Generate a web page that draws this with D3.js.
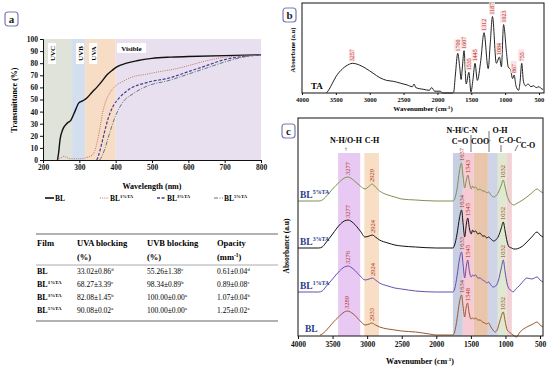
<!DOCTYPE html>
<html>
<head>
<meta charset="utf-8">
<script src="https://cdn.jsdelivr.net/npm/d3@7"></script>
<style>
body { margin: 0; background: #fff; }
svg { font-family: "Liberation Serif", "DejaVu Serif", serif; }
</style>
</head>
<body>
<div id="main"></div>
<script>
// ---------- panel a : UV-vis transmittance ----------
var uvBands = [[200, 280], [280, 316], [316, 400], [400, 800]];
var uvBandNames = ['UVC', 'UVB', 'UVA', 'Visible'];
var wlTicks = [200, 300, 400, 500, 600, 700, 800];
var transTicks = [0, 10, 20, 30, 40, 50, 60, 70, 80, 90, 100];

var seriesNames = ['BL', 'BL', 'BL', 'BL'];
var seriesSup = ['', '1%TA', '3%TA', '5%TA'];

var transBL = [[240, 0], [243, 6], [247, 17], [254, 25], [265, 30], [277, 33], [289, 41], [298, 47], [310, 49], [320, 51],
  [335, 56], [348, 60], [362, 65], [375, 70], [390, 74], [403, 77], [430, 80], [458, 82], [500, 84], [550, 85], [600, 85.5],
  [700, 86.3], [800, 87]];
var transBL1 = [[240, 0], [250, 2], [258, 3], [266, 2], [276, 1], [300, 1], [320, 2], [335, 4], [343, 8], [350, 16], [357, 27],
  [364, 39], [371, 47], [385, 56], [403, 62], [420, 65], [440, 68], [486, 71], [520, 73], [560, 75], [600, 78], [650, 82],
  [700, 85], [750, 86], [800, 87]];
var transBL3 = [[348, 0], [352, 3], [357, 8], [362, 14], [370, 24], [380, 35], [394, 45], [412, 52], [440, 59], [486, 64],
  [550, 68], [600, 73], [650, 78], [700, 83], [750, 85.5], [800, 87]];
var transBL5 = [[356, 0], [362, 3], [370, 9], [381, 20], [399, 36], [418, 47], [449, 55], [486, 61], [550, 66], [600, 71],
  [650, 76], [700, 81], [750, 85], [800, 87]];

// table
var tableHead = ['Film', 'UVA blocking', 'UVB blocking', 'Opacity'];
var tableUnits = ['', '(%)', '(%)', '(mm'];
var uvaBlock = ['33.02±0.86', '68.27±3.39', '82.08±1.45', '90.08±0.02'];
var uvaLetter = ['d', 'c', 'b', 'a'];
var uvbBlock = ['55.26±1.38', '98.34±0.89', '100.00±0.00', '100.00±0.00'];
var uvbLetter = ['c', 'b', 'a', 'a'];
var opacity = ['0.61±0.04', '0.89±0.08', '1.07±0.04', '1.25±0.02'];
var opLetter = ['d', 'c', 'b', 'a'];

// ---------- panel b : FTIR of TA ----------
var wnTicks = [4000, 3500, 3000, 2500, 2000, 1500, 1000, 500];
var specTA = [[3640, 0], [3600, 0.04], [3550, 0.11], [3500, 0.18], [3400, 0.27], [3300, 0.32], [3257, 0.33], [3150, 0.31],
  [3050, 0.27], [2950, 0.22], [2850, 0.17], [2750, 0.14], [2650, 0.13], [2550, 0.11], [2450, 0.09], [2370, 0.07],
  [2345, 0.1], [2320, 0.06], [2200, 0.04], [2120, 0.03], [2085, 0.06], [2040, 0.02], [1960, 0.02], [1920, 0.0],
  [1780, 0.0], [1760, 0.01], [1735, 0.2], [1700, 0.44], [1670, 0.28], [1650, 0.15], [1630, 0.3], [1607, 0.47],
  [1575, 0.1], [1535, 0.23], [1505, 0.01], [1475, 0.15], [1445, 0.33], [1410, 0.14], [1360, 0.36], [1312, 0.67],
  [1250, 0.27], [1220, 0.55], [1187, 0.85], [1130, 0.33], [1084, 0.4], [1055, 0.29], [1023, 0.76], [980, 0.45],
  [955, 0.29], [920, 0.26], [890, 0.16], [867, 0.2], [840, 0.08], [800, 0.03], [780, 0.12], [755, 0.33], [730, 0.13],
  [700, 0.08], [660, 0.1], [620, 0.07], [580, 0.08], [540, 0.06], [500, 0.07], [470, 0.05], [440, 0.04]];
var peaksTA = [3257, 1700, 1607, 1535, 1445, 1312, 1187, 1084, 1023, 867, 755];

// ---------- panel c : FTIR of films ----------
var groupBands = [[3420, 3100], [3040, 2830], [1760, 1616], [1616, 1457], [1457, 1254], [1254, 1110], [1110, 980], [980, 907]];
var groupNames = ['N-H/O-H', 'C-H', 'C=O', 'N-H/C-N', 'COO', 'O-H', 'C-O-C', 'C-O'];
var specOffset = [1, 44, 88, 135];

var specBL = [[3680, 0], [3650, 1], [3600, 4], [3500, 12], [3400, 19], [3330, 23], [3289, 24], [3200, 21], [3100, 14],
  [3030, 10], [2970, 11], [2933, 12], [2880, 10], [2820, 8], [2700, 6], [2600, 5], [2500, 4], [2300, 3], [2100, 1],
  [2000, 0], [1760, 0], [1735, 3], [1700, 16], [1665, 33], [1634, 40], [1612, 28], [1590, 18], [1568, 28], [1548, 32],
  [1525, 22], [1500, 16], [1475, 17], [1455, 16], [1430, 17], [1400, 15], [1370, 15], [1330, 13], [1300, 12], [1270, 11],
  [1245, 12], [1210, 8], [1170, 4], [1150, 3], [1120, 5], [1080, 14], [1032, 23], [1005, 14], [975, 5], [945, 3],
  [910, 1], [870, -1], [840, -2], [800, 2], [740, 6], [690, 8], [600, 11], [543, 13], [500, 10], [457, 8]];
var specBL1 = [[4000, 0], [3700, 0], [3650, 1], [3600, 5], [3500, 13], [3400, 21], [3330, 25], [3276, 26], [3200, 23],
  [3100, 16], [3030, 12], [2970, 13], [2924, 14], [2880, 12], [2820, 9], [2700, 6], [2600, 4], [2500, 3], [2300, 1],
  [2000, 0], [1760, 0], [1735, 3], [1700, 16], [1665, 33], [1633, 40], [1612, 27], [1590, 14], [1565, 26], [1545, 32],
  [1520, 20], [1495, 15], [1475, 17], [1455, 16], [1430, 17], [1400, 14], [1370, 14], [1330, 12], [1300, 11], [1270, 9],
  [1245, 10], [1210, 7], [1180, 5], [1140, 6], [1100, 12], [1060, 24], [1032, 32], [1005, 20], [975, 8], [945, 3],
  [910, 1], [890, 0], [850, 3], [790, 7], [740, 11], [690, 14], [620, 13], [543, 15], [500, 12], [457, 10]];
var specBL3 = [[4000, 0], [3700, 0], [3650, 1], [3600, 5], [3500, 14], [3400, 23], [3330, 27], [3277, 28], [3200, 25],
  [3100, 17], [3030, 11], [2970, 12], [2924, 13], [2880, 11], [2820, 8], [2700, 5], [2600, 3], [2500, 2], [2300, 1],
  [2000, 0], [1760, 0], [1735, 3], [1700, 14], [1665, 30], [1634, 38], [1612, 24], [1590, 11], [1565, 24], [1545, 30],
  [1520, 19], [1495, 14], [1475, 18], [1455, 16], [1430, 17], [1400, 14], [1370, 15], [1330, 12], [1300, 12], [1270, 10],
  [1245, 11], [1210, 9], [1170, 7], [1140, 8], [1100, 12], [1060, 20], [1032, 26], [1005, 17], [975, 6], [945, 1],
  [910, 0], [880, -1], [850, -1], [800, 0], [750, 2], [690, 6], [620, 11], [543, 16], [500, 13], [457, 11]];
var specBL5 = [[4000, 0], [3700, 0], [3650, 1], [3600, 4], [3500, 12], [3400, 19], [3330, 23], [3277, 24], [3200, 21],
  [3100, 15], [3030, 12], [2970, 15], [2929, 17], [2880, 14], [2820, 10], [2700, 6], [2600, 4], [2500, 2], [2300, 1],
  [2000, 0], [1760, 0], [1735, 2], [1700, 12], [1665, 30], [1637, 38], [1612, 24], [1590, 13], [1565, 21], [1543, 26],
  [1520, 18], [1495, 12], [1475, 15], [1455, 13], [1430, 14], [1400, 11], [1370, 12], [1330, 10], [1300, 10], [1270, 8],
  [1245, 9], [1210, 6], [1170, 4], [1140, 5], [1100, 9], [1060, 16], [1032, 21], [1005, 14], [975, 5], [945, 0],
  [910, -3], [880, -4], [850, -3], [800, -1], [750, 1], [690, 4], [620, 8], [543, 12], [500, 10], [457, 8]];
var peaksBL = [3289, 2933, 1634, 1548, 1032];
var peaksBL1 = [3276, 2924, 1633, 1545, 1032];
var peaksBL3 = [3277, 2924, 1634, 1545, 1032];
var peaksBL5 = [3277, 2929, 1637, 1543, 1032];

// ---------- drawing ----------
var svg = d3.select("#main").append("svg")
    .attr("width", 550)
    .attr("height", 369);

var bold = "bold";

function supText(g, x, y, base, sup, fs, anchor) {
  var t = g.append("text")
    .attr("x", x).attr("y", y)
    .attr("font-size", fs)
    .attr("text-anchor", anchor || "start");
  t.append("tspan").text(base);
  if (sup) t.append("tspan").attr("dy", -fs * 0.38).attr("font-size", fs * 0.62).text(sup);
  return t;
}

function letterBox(x, y, t) {
  svg.append("rect").attr("x", x).attr("y", y).attr("width", 13).attr("height", 14).attr("rx", 3)
    .attr("fill", "#fff").attr("stroke", "#7b7bb8").attr("stroke-width", 1.2);
  svg.append("text").attr("x", x + 6.5).attr("y", y + 10.5).attr("text-anchor", "middle")
    .attr("font-size", 11).attr("font-weight", bold).attr("fill", "#222").text(t);
}

function styleAxis(g, fs) {
  g.selectAll("text").attr("font-family", "Liberation Serif, serif").attr("font-weight", bold)
    .attr("font-size", fs).attr("fill", "#111");
  g.selectAll("line, path").attr("stroke", "#111");
}

// panel a
var xa = d3.scaleLinear().domain([200, 800]).range([43, 261]);
var ya = d3.scaleLinear().domain([0, 100]).range([160, 39]);
var bandColA = ['#dfe3da', '#d3dfee', '#f7dcc6', '#e9e0ef'];

var ga = svg.append("g");
ga.selectAll(".bandA").data(uvBands).enter().append("rect")
  .attr("x", function(d) { return xa(d[0]); })
  .attr("y", ya(100))
  .attr("width", function(d) { return xa(d[1]) - xa(d[0]); })
  .attr("height", ya(0) - ya(100))
  .attr("fill", function(d, i) { return bandColA[i]; });

// band labels
[0, 1, 2].forEach(function(i) {
  var cx = xa(uvBands[i][0]) + 8 + (i == 0 ? 1 : 0);
  ga.append("rect").attr("x", cx - 4).attr("y", 43).attr("width", 8).attr("height", 21).attr("fill", "#fff");
  ga.append("text").attr("transform", "translate(" + (cx + 2.5) + ",53.5) rotate(-90)")
    .attr("text-anchor", "middle").attr("font-size", 7).attr("font-weight", bold).text(uvBandNames[i]);
});
ga.append("rect").attr("x", 117).attr("y", 43).attr("width", 29).attr("height", 10).attr("fill", "#fff");
ga.append("text").attr("x", 131.5).attr("y", 51).attr("text-anchor", "middle")
  .attr("font-size", 7).attr("font-weight", bold).text(uvBandNames[3]);

var lineA = d3.line()
  .x(function(d) { return xa(d[0]); })
  .y(function(d) { return ya(d[1]); })
  .curve(d3.curveMonotoneX);

var transSeries = [transBL, transBL1, transBL3, transBL5];
var transColor = ['#111', '#b8746a', '#4b3c96', '#5d7780'];
var transDash = [null, '1,1.2', '3,1.6', '4,1.5,1,1.5'];
var transWidth = [1.4, 1, 1.2, 1];

ga.selectAll(".trans").data(transSeries).enter().append("path")
  .attr("d", lineA)
  .attr("fill", "none")
  .attr("stroke", function(d, i) { return transColor[i]; })
  .attr("stroke-dasharray", function(d, i) { return transDash[i]; })
  .attr("stroke-width", function(d, i) { return transWidth[i]; });

var axA = ga.append("g").attr("transform", "translate(" + xa(200) + ",0)")
  .call(d3.axisLeft(ya).tickValues(transTicks).tickSize(3).tickPadding(2));
styleAxis(axA, 7.5);
var axAb = ga.append("g").attr("transform", "translate(0," + ya(0) + ")")
  .call(d3.axisBottom(xa).tickValues(wlTicks).tickSize(3).tickPadding(2));
styleAxis(axAb, 7.5);

ga.append("text").attr("transform", "translate(17,100) rotate(-90)").attr("text-anchor", "middle")
  .attr("font-size", 8).attr("font-weight", bold).text("Transmittance (%)");
ga.append("text").attr("x", 152).attr("y", 189).attr("text-anchor", "middle")
  .attr("font-size", 8).attr("font-weight", bold).text("Wavelength (nm)");

// legend a
var legX = [45, 100, 157, 214];
legX.forEach(function(lx, i) {
  ga.append("line").attr("x1", lx).attr("x2", lx + 9).attr("y1", 198).attr("y2", 198)
    .attr("stroke", transColor[i]).attr("stroke-width", transWidth[i] + 0.2)
    .attr("stroke-dasharray", transDash[i]);
  supText(ga, lx + 10, 201, seriesNames[i], seriesSup[i], 7.5).attr("font-weight", bold);
});

letterBox(5, 12, "a");

// table
var gt = svg.append("g");
var colX = [37, 77, 147, 217];
var rowY = [274, 287, 300, 313];
gt.append("line").attr("x1", 36).attr("x2", 278).attr("y1", 234).attr("y2", 234).attr("stroke", "#999").attr("stroke-width", 1.5);
gt.append("line").attr("x1", 36).attr("x2", 278).attr("y1", 265).attr("y2", 265).attr("stroke", "#aaa").attr("stroke-width", 1);
gt.append("line").attr("x1", 36).attr("x2", 278).attr("y1", 321).attr("y2", 321).attr("stroke", "#999").attr("stroke-width", 1.5);
tableHead.forEach(function(h, i) {
  gt.append("text").attr("x", colX[i]).attr("y", 246).attr("font-size", 8.5).attr("font-weight", bold).text(h);
  if (tableUnits[i]) {
    var t = gt.append("text").attr("x", colX[i]).attr("y", 260).attr("font-size", 8.5).attr("font-weight", bold);
    t.append("tspan").text(tableUnits[i]);
    if (i == 3) {
      t.append("tspan").attr("dy", -3).attr("font-size", 5.5).text("-1");
      t.append("tspan").attr("dy", 3).text(")");
    }
  }
});
rowY.forEach(function(ry, r) {
  supText(gt, colX[0], ry, seriesNames[r], seriesSup[r], 8).attr("font-weight", bold);
  supText(gt, colX[1], ry, uvaBlock[r], uvaLetter[r], 7.5);
  supText(gt, colX[2], ry, uvbBlock[r], uvbLetter[r], 7.5);
  supText(gt, colX[3], ry, opacity[r], opLetter[r], 7.5);
});

// panel b
var xb = d3.scaleLinear().domain([4000, 426]).range([302, 544]);
var yb = d3.scaleLinear().domain([0, 1]).range([93, 3]);
var gb = svg.append("g");
gb.append("rect").attr("x", 302).attr("y", 3).attr("width", 242).attr("height", 90)
  .attr("fill", "#fff").attr("stroke", "#111").attr("stroke-width", 1);

var lineB = d3.line()
  .x(function(d) { return xb(d[0]); })
  .y(function(d) { return yb(d[1]); })
  .curve(d3.curveMonotoneX);
gb.append("path").datum(specTA).attr("d", lineB)
  .attr("fill", "none").attr("stroke", "#222").attr("stroke-width", 1);

var axB = gb.append("g").attr("transform", "translate(0,93)")
  .call(d3.axisBottom(xb).tickValues(wnTicks).tickFormat(d3.format("d")).tickSize(2).tickPadding(2));
styleAxis(axB, 6.5);
axB.select(".domain").remove();

peaksTA.forEach(function(p) {
  var v = specTA.find(function(d) { return d[0] == p; })[1];
  var px = xb(p), py = yb(v) - 2;
  gb.append("rect").attr("x", px - 3.5).attr("y", py - 12).attr("width", 6).attr("height", 12).attr("fill", "#fbe4e4");
  gb.append("text").attr("transform", "translate(" + (px + 2) + "," + py + ") rotate(-90)")
    .attr("font-size", 6).attr("fill", "#b52a1f").text(p);
});

gb.append("text").attr("x", 311).attr("y", 89).attr("font-size", 9).attr("font-weight", bold).text("TA");
gb.append("text").attr("transform", "translate(295,50) rotate(-90)").attr("text-anchor", "middle")
  .attr("font-size", 6.5).attr("font-weight", bold).text("Absorbane (a.u)");
var tb = gb.append("text").attr("x", 423).attr("y", 111).attr("text-anchor", "middle")
  .attr("font-size", 7).attr("font-weight", bold);
tb.append("tspan").text("Wavenumber (cm");
tb.append("tspan").attr("dy", -2.5).attr("font-size", 4.5).text("-1");
tb.append("tspan").attr("dy", 2.5).text(")");

letterBox(283, 8, "b");

// panel c
var xc = d3.scaleLinear().domain([4000, 457]).range([298, 543]);
var yc = d3.scaleLinear().domain([0, 218]).range([336, 118]);
var gc = svg.append("g");
gc.append("rect").attr("x", 298).attr("y", 118).attr("width", 245).attr("height", 218)
  .attr("fill", "#fff").attr("stroke", "none");

var bandColC = ['#e8c9f3', '#f7dec4', '#c9cfe2', '#f6cbd3', '#e9c6ab', '#cfd4e6', '#dfe8d0', '#f3d2d6'];
gc.selectAll(".bandC").data(groupBands).enter().append("rect")
  .attr("x", function(d) { return xc(d[0]); })
  .attr("y", 153)
  .attr("width", function(d) { return xc(d[1]) - xc(d[0]); })
  .attr("height", 336 - 153)
  .attr("fill", function(d, i) { return bandColC[i]; });

var lineC = d3.line()
  .x(function(d) { return xc(d[0]); })
  .y(function(d) { return yc(d[1]); })
  .curve(d3.curveMonotoneX);

var specSeries = [specBL, specBL1, specBL3, specBL5];
var specPeaks = [peaksBL, peaksBL1, peaksBL3, peaksBL5];
var specColor = ['#9b5a2c', '#6a4cb0', '#111', '#7d9150'];

specSeries.forEach(function(s, i) {
  var off = specOffset[i];
  var pts = s.map(function(d) { return [d[0], d[1] + off]; });
  gc.append("path").datum(pts).attr("d", lineC)
    .attr("fill", "none").attr("stroke", specColor[i]).attr("stroke-width", 1);
  specPeaks[i].forEach(function(p) {
    var v = s.find(function(d) { return d[0] == p; })[1] + off;
    var px = xc(p), py = yc(v) - 2;
    gc.append("text").attr("transform", "translate(" + (px + 2.2) + "," + py + ") rotate(-90)")
      .attr("font-size", 6.5).attr("fill", "#b52a1f").text(p);
  });
  var lx = i == 0 ? 305 : 300;
  supText(gc, lx, yc(off) - 3, seriesNames[i], seriesSup[i], 9.5)
    .attr("font-weight", bold).attr("fill", "#2b3a8c");
});

gc.append("rect").attr("x", 298).attr("y", 118).attr("width", 245).attr("height", 218)
  .attr("fill", "none").attr("stroke", "#111").attr("stroke-width", 1);

// group labels above the bands
var grpLab = [
  [groupNames[0], 346, 143], [groupNames[1], 372, 143], [groupNames[3], 462, 133],
  [groupNames[2], 460, 144], [groupNames[5], 500, 133], [groupNames[6], 510, 143], [groupNames[7], 528, 148]
];
grpLab.forEach(function(g) {
  gc.append("text").attr("x", g[1]).attr("y", g[2]).attr("text-anchor", "middle")
    .attr("font-size", 8).attr("font-weight", bold).text(g[0]);
});
var coo = gc.append("text").attr("x", 481).attr("y", 144).attr("text-anchor", "middle")
  .attr("font-size", 8).attr("font-weight", bold);
coo.append("tspan").text(groupNames[4]);
coo.append("tspan").attr("dy", -3).attr("font-size", 5).text("-");
gc.append("text").attr("x", 346).attr("y", 151).attr("text-anchor", "middle").attr("font-size", 6).text("↑");
gc.append("line").attr("x1", 471).attr("x2", 471).attr("y1", 135).attr("y2", 152).attr("stroke", "#333").attr("stroke-width", 0.7);
gc.append("line").attr("x1", 489).attr("x2", 489).attr("y1", 131).attr("y2", 152).attr("stroke", "#333").attr("stroke-width", 0.7);
gc.append("line").attr("x1", 501).attr("x2", 501).attr("y1", 145).attr("y2", 152).attr("stroke", "#333").attr("stroke-width", 0.7);
gc.append("line").attr("x1", 518).attr("x2", 515).attr("y1", 145).attr("y2", 151).attr("stroke", "#333").attr("stroke-width", 0.7);

var axC = gc.append("g").attr("transform", "translate(0,336)")
  .call(d3.axisBottom(xc).tickValues(wnTicks).tickFormat(d3.format("d")).tickSize(3).tickPadding(3));
styleAxis(axC, 7.5);
axC.select(".domain").remove();

gc.append("text").attr("transform", "translate(289,246) rotate(-90)").attr("text-anchor", "middle")
  .attr("font-size", 7.5).attr("font-weight", bold).text("Absorbance (a.u)");
var tc = gc.append("text").attr("x", 420).attr("y", 364).attr("text-anchor", "middle")
  .attr("font-size", 8).attr("font-weight", bold);
tc.append("tspan").text("Wavenumber (cm");
tc.append("tspan").attr("dy", -3).attr("font-size", 5).text("-1");
tc.append("tspan").attr("dy", 3).text(")");

letterBox(282, 124, "c");
</script>
</body>
</html>
